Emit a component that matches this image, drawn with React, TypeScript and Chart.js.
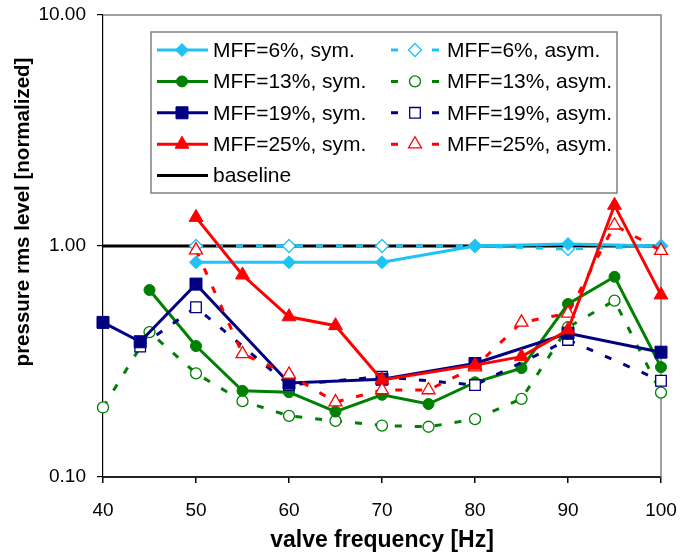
import React, { useEffect, useRef } from 'react';
import { Chart, registerables } from 'chart.js';

Chart.register(...registerables);

const FONT = '"Liberation Sans", Arial, Helvetica, sans-serif';

// ---- axis ticks ----
const xTickValues = [40, 50, 60, 70, 80, 90, 100];
const yTickValues = [0.1, 1, 10];

// ---- data ----
const freq6 = [50, 60, 70, 80, 90, 100];
const mff6Sym = [0.85, 0.85, 0.85, 1.0, 1.02, 1.0];
const mff6Asym = [1.0, 1.0, 1.0, 1.0, 0.97, 1.0];

const freq13Sym = [45, 50, 55, 60, 65, 70, 75, 80, 85, 90, 95, 100];
const mff13Sym = [0.645, 0.369, 0.236, 0.233, 0.192, 0.227, 0.207, 0.257, 0.296, 0.561, 0.736, 0.299];
const freq13Asym = [40, 45, 50, 55, 60, 65, 70, 75, 80, 85, 90, 95, 100];
const mff13Asym = [0.2, 0.424, 0.281, 0.213, 0.184, 0.175, 0.167, 0.165, 0.178, 0.218, 0.445, 0.58, 0.232];

const freq19Sym = [40, 44, 50, 60, 70, 80, 90, 100];
const mff19Sym = [0.467, 0.385, 0.684, 0.255, 0.265, 0.31, 0.419, 0.347];
const freq19Asym = [44, 50, 60, 70, 80, 90, 100];
const mff19Asym = [0.367, 0.543, 0.25, 0.272, 0.25, 0.392, 0.261];

const freq25Sym = [50, 55, 60, 65, 70, 80, 85, 90, 95, 100];
const mff25Sym = [1.33, 0.749, 0.494, 0.452, 0.263, 0.305, 0.332, 0.433, 1.5, 0.614];
const freq25Asym = [50, 55, 60, 65, 70, 75, 80, 85, 90, 95, 100];
const mff25Asym = [0.96, 0.341, 0.278, 0.211, 0.238, 0.238, 0.299, 0.467, 0.511, 1.23, 0.955];

const baselineFreq = [40, 100];
const baselineVals = [1, 1];

const xTitle = 'valve frequency [Hz]';
const yTitle = 'pressure rms level [normalized]';

// ---- styles ----
const CYAN = '#1fc3f3';
const GREEN = '#008000';
const NAVY = '#000080';
const RED = '#ff0000';

type Def = {
  label: string;
  xs: number[];
  ys: number[];
  color: string;
  marker: string | false;
  r: number;
  filled: boolean;
  dashed: boolean;
  order: number;
};

const defs: Def[] = [
  { label: 'MFF=6%, sym.', xs: freq6, ys: mff6Sym, color: CYAN, marker: 'rectRot', r: 6.5, filled: true, dashed: false, order: 8 },
  { label: 'MFF=13%, sym.', xs: freq13Sym, ys: mff13Sym, color: GREEN, marker: 'circle', r: 5.5, filled: true, dashed: false, order: 6 },
  { label: 'MFF=19%, sym.', xs: freq19Sym, ys: mff19Sym, color: NAVY, marker: 'rect', r: 8.5, filled: true, dashed: false, order: 4 },
  { label: 'MFF=25%, sym.', xs: freq25Sym, ys: mff25Sym, color: RED, marker: 'triangle', r: 8, filled: true, dashed: false, order: 2 },
  { label: 'baseline', xs: baselineFreq, ys: baselineVals, color: '#000000', marker: false, r: 0, filled: true, dashed: false, order: 10 },
  { label: 'MFF=6%, asym.', xs: freq6, ys: mff6Asym, color: CYAN, marker: 'rectRot', r: 6.5, filled: false, dashed: true, order: 9 },
  { label: 'MFF=13%, asym.', xs: freq13Asym, ys: mff13Asym, color: GREEN, marker: 'circle', r: 5.5, filled: false, dashed: true, order: 7 },
  { label: 'MFF=19%, asym.', xs: freq19Asym, ys: mff19Asym, color: NAVY, marker: 'rect', r: 7.5, filled: false, dashed: true, order: 5 },
  { label: 'MFF=25%, asym.', xs: freq25Asym, ys: mff25Asym, color: RED, marker: 'triangle', r: 7.5, filled: false, dashed: true, order: 3 },
];

const DASH = [7, 13];

function markerPath(ctx: CanvasRenderingContext2D, style: string, x: number, y: number, r: number) {
  ctx.beginPath();
  if (style === 'circle') {
    ctx.arc(x, y, r, 0, Math.PI * 2);
  } else if (style === 'rect') {
    const s = Math.SQRT1_2 * r;
    ctx.rect(x - s, y - s, 2 * s, 2 * s);
  } else if (style === 'rectRot') {
    ctx.moveTo(x - r, y);
    ctx.lineTo(x, y - r);
    ctx.lineTo(x + r, y);
    ctx.lineTo(x, y + r);
    ctx.closePath();
  } else if (style === 'triangle') {
    let a = 0;
    ctx.moveTo(x + Math.sin(a) * r, y - Math.cos(a) * r);
    a += (2 * Math.PI) / 3;
    ctx.lineTo(x + Math.sin(a) * r, y - Math.cos(a) * r);
    a += (2 * Math.PI) / 3;
    ctx.lineTo(x + Math.sin(a) * r, y - Math.cos(a) * r);
    ctx.closePath();
  }
}

const framePlugin = {
  id: 'frame',
  beforeDatasetsDraw(chart: any) {
    const { ctx, chartArea } = chart;
    ctx.save();
    ctx.strokeStyle = '#808080';
    ctx.lineWidth = 1.5;
    ctx.beginPath();
    ctx.moveTo(chartArea.left, chartArea.top);
    ctx.lineTo(chartArea.right, chartArea.top);
    ctx.lineTo(chartArea.right, chartArea.bottom);
    ctx.stroke();
    // y axis title (placed like the reference, above the axis centre)
    ctx.translate(23, 212);
    ctx.rotate(-Math.PI / 2);
    ctx.fillStyle = '#000';
    ctx.font = `bold 20.5px ${FONT}`;
    ctx.textAlign = 'center';
    ctx.textBaseline = 'middle';
    ctx.fillText(yTitle, 0, 0);
    ctx.restore();
  },
};

const legendPlugin = {
  id: 'customLegend',
  afterDatasetsDraw(chart: any) {
    const ctx: CanvasRenderingContext2D = chart.ctx;
    ctx.save();
    const bx = 151, by = 32, bw = 466, bh = 161;
    ctx.fillStyle = '#ffffff';
    ctx.fillRect(bx, by, bw, bh);
    ctx.strokeStyle = '#808080';
    ctx.lineWidth = 1.5;
    ctx.strokeRect(bx, by, bw, bh);
    ctx.font = `21px ${FONT}`;
    ctx.textBaseline = 'middle';
    ctx.textAlign = 'left';
    const rowY = (i: number) => 50 + i * 31.4;
    const col1 = defs.filter((d) => !d.dashed);
    const col2 = defs.filter((d) => d.dashed);
    col1.forEach((d, i) => {
      const y = rowY(i);
      ctx.setLineDash([]);
      ctx.strokeStyle = d.color;
      ctx.lineWidth = 3;
      ctx.beginPath();
      ctx.moveTo(157, y);
      ctx.lineTo(208, y);
      ctx.stroke();
      if (d.marker) {
        markerPath(ctx, d.marker, 182, y, d.r);
        ctx.fillStyle = d.color;
        ctx.fill();
        ctx.lineWidth = 1;
        ctx.stroke();
      }
      ctx.fillStyle = '#000';
      ctx.fillText(d.label, 213, y + 1);
    });
    col2.forEach((d, i) => {
      const y = rowY(i);
      ctx.setLineDash([]);
      ctx.strokeStyle = d.color;
      ctx.lineWidth = 3;
      ctx.beginPath();
      ctx.moveTo(391, y);
      ctx.lineTo(398, y);
      ctx.moveTo(432, y);
      ctx.lineTo(439, y);
      ctx.stroke();
      if (d.marker) {
        markerPath(ctx, d.marker, 415, y, d.r);
        ctx.fillStyle = '#fff';
        ctx.fill();
        ctx.lineWidth = 1.3;
        ctx.stroke();
      }
      ctx.fillStyle = '#000';
      ctx.fillText(d.label, 447, y + 1);
    });
    ctx.restore();
  },
};

export default function App() {
  const ref = useRef<HTMLCanvasElement | null>(null);

  useEffect(() => {
    document.body.style.margin = '0';
    const canvas = ref.current;
    if (!canvas) return;
    const datasets = defs.map((d) => ({
      label: d.label,
      data: d.xs.map((x, i) => ({ x, y: d.ys[i] })),
      borderColor: d.color,
      backgroundColor: d.filled ? d.color : '#ffffff',
      borderWidth: 3,
      borderDash: d.dashed ? DASH : [],
      pointStyle: d.marker || 'circle',
      pointRadius: d.marker ? d.r : 0,
      pointBorderWidth: d.filled ? 1 : 1.3,
      pointBorderColor: d.color,
      pointBackgroundColor: d.filled ? d.color : '#ffffff',
      tension: 0,
      clip: false as any,
      order: d.order,
    }));

    const chart = new Chart(canvas, {
      type: 'line',
      data: { datasets },
      options: {
        animation: false,
        responsive: false,
        maintainAspectRatio: false,
        layout: { padding: { top: 15, right: 20, left: 0, bottom: 0 } },
        plugins: { legend: { display: false }, tooltip: { enabled: false } },
        scales: {
          x: {
            type: 'linear',
            min: 40,
            max: 100,
            afterBuildTicks: (s: any) => {
              s.ticks = xTickValues.map((v) => ({ value: v }));
            },
            afterFit: (s: any) => {
              s.height = 79;
              s.paddingLeft = 0;
              s.paddingRight = 0;
              s.paddingTop = 0;
              s.paddingBottom = 0;
            },
            ticks: {
              color: '#000',
              font: { family: FONT, size: 19 },
              padding: 16,
              maxRotation: 0,
              autoSkip: false,
            },
            grid: { drawOnChartArea: false, drawTicks: true, tickLength: 6, color: '#000', lineWidth: 1.5 },
            border: { display: true, color: '#222', width: 2 },
            title: {
              display: true,
              text: xTitle,
              color: '#000',
              font: { family: FONT, size: 23, weight: 'bold' },
              padding: { top: 0, bottom: 2 },
            },
          },
          y: {
            type: 'logarithmic',
            min: 0.1,
            max: 10,
            afterBuildTicks: (s: any) => {
              s.ticks = yTickValues.map((v) => ({ value: v }));
            },
            afterFit: (s: any) => {
              s.width = 103;
              s.paddingLeft = 0;
              s.paddingRight = 0;
              s.paddingTop = 0;
              s.paddingBottom = 0;
            },
            ticks: {
              color: '#000',
              font: { family: FONT, size: 19 },
              padding: 11,
              callback: (v: any) => Number(v).toFixed(2),
            },
            grid: { drawOnChartArea: false, drawTicks: true, tickLength: 6, color: '#000', lineWidth: 1.2 },
            border: { display: true, color: '#000', width: 1.2 },
            title: { display: false },
          },
        },
      } as any,
      plugins: [framePlugin, legendPlugin],
    });
    return () => chart.destroy();
  }, []);

  return (
    <div style={{ width: 681, height: 556 }}>
      <canvas ref={ref} width={681} height={556} style={{ display: 'block', width: 681, height: 556 }} />
    </div>
  );
}
